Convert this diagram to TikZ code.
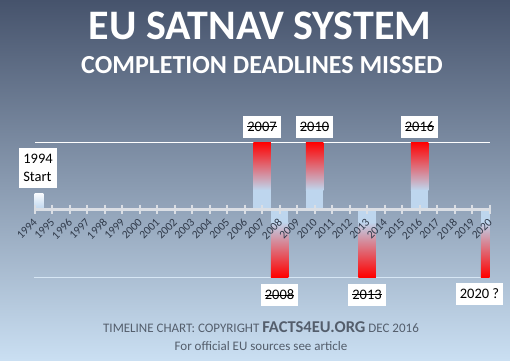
\documentclass[tikz,border=0pt]{standalone}
\usepackage{fontspec}
\setmainfont{Carlito}
\usetikzlibrary{positioning}
\definecolor{bgtop}{RGB}{70,83,108}
\definecolor{bgmid}{RGB}{140,165,192}
\definecolor{bgbottom}{RGB}{202,223,242}
\definecolor{barblue}{RGB}{190,214,238}
\definecolor{barred}{RGB}{255,0,0}
\definecolor{axisgrey}{RGB}{218,222,228}
\definecolor{lowline}{RGB}{214,230,244}
\definecolor{yeargrey}{RGB}{48,58,74}
\definecolor{footgrey}{RGB}{84,94,108}
\newsavebox\strikebox
\newcommand{\struck}[1]{\sbox\strikebox{#1}\rlap{\rule[0.31em]{\wd\strikebox}{0.9pt}}\usebox\strikebox}

\begin{document}
\begin{tikzpicture}[x=1pt, y=-1pt,
	titleStyle/.style={text=white, font=\bfseries\fontsize{42}{44}\selectfont, anchor=base},
	subStyle/.style={text=white, font=\bfseries\fontsize{26}{28}\selectfont, anchor=base},
	yearBox/.style={fill=white, text=black, font=\fontsize{14.5}{18}\selectfont, inner xsep=4pt, inner ysep=0pt, minimum height=22pt},
	tickLabel/.style={rotate=45, anchor=east, text=yeargrey, font=\fontsize{11.5}{13}\selectfont, inner sep=1pt},
	footStyle/.style={text=footgrey, font=\fontsize{13}{15}\selectfont, anchor=base},]
	
	\useasboundingbox (0,0) rectangle (510,360);
	\shade[top color=bgtop, middle color=bgmid, bottom color=bgbottom] (0,0) rectangle (510,360);
	
	\node[titleStyle] (title) at (260,39) {EU SATNAV SYSTEM};
	\node[subStyle] (subtitle) at (262,73) {COMPLETION DEADLINES MISSED};
	
	% guide lines
	\coordinate (topL) at (35,142);
	\coordinate (topR) at (490,142);
	\coordinate (lowL) at (34,277);
	\coordinate (lowR) at (490,277);
	\draw[white, line width=1pt] (topL) -- (topR);
	\draw[lowline, line width=1pt] (lowL) -- (lowR);
	
	% bars above the axis
	\shade[top color=white!92!barblue, bottom color=barblue] (34.5,193) rectangle (43.25,209);
	\foreach \yr in {2007,2010,2016}{
		\pgfmathsetmacro\bx{34.5+(\yr-1994)*17.5}
		\shade[top color=barred, bottom color=barblue] (\bx-8.75,142) rectangle (\bx+8.75,190);
		\fill[barblue] (\bx-8.75,190) rectangle (\bx+8.75,209);
	}
	% bars below the axis
	\foreach \yr in {2008,2013}{
		\pgfmathsetmacro\bx{34.5+(\yr-1994)*17.5}
		\fill[barblue] (\bx-8.75,209) rectangle (\bx+8.75,222);
		\shade[top color=barblue, bottom color=barred] (\bx-8.75,222) rectangle (\bx+8.75,277);
	}
	\fill[barblue] (480.75,209) rectangle (489.5,222);
	\shade[top color=barblue, bottom color=barred] (480.75,222) rectangle (489.5,277);
	
	% axis
	\coordinate (axisL) at (34.5,209);
	\coordinate (axisR) at (489.5,209);
	\draw[axisgrey, line width=3pt] (axisL) -- (axisR);
	\foreach \yr in {1994,...,2020}{
		\pgfmathsetmacro\bx{34.5+(\yr-1994)*17.5}
		\draw[axisgrey, line width=2pt] (\bx,204.5) -- (\bx,214);
		\node[tickLabel] (tick\yr) at (\bx+1.5,220) {\yr};
	}
	
	% deadline labels
	\node[yearBox, align=left, inner sep=4pt, minimum height=40pt] (start) at (38,168) {1994\\Start};
	\node[yearBox] (y2007) at (262,127) {\struck{2007}};
	\node[yearBox] (y2010) at (314.5,127) {\struck{2010}};
	\node[yearBox] (y2016) at (419.5,127) {\struck{2016}};
	\node[yearBox] (y2008) at (279.5,295) {\struck{2008}};
	\node[yearBox] (y2013) at (367,295) {\struck{2013}};
	\node[yearBox] (y2020) at (479.5,294) {2020 ?};
	
	\node[footStyle] (credit) at (261,332) {TIMELINE CHART: COPYRIGHT {\bfseries\fontsize{16.5}{18}\selectfont FACTS4EU.ORG} DEC 2016};
	\node[footStyle] (source) at (261,350) {For official EU sources see article};
\end{tikzpicture}
\end{document}
